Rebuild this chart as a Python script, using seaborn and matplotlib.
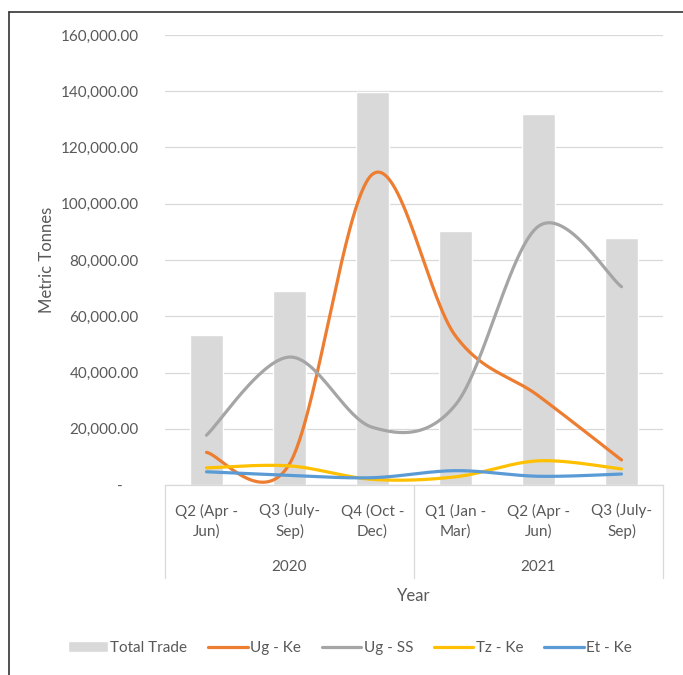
import numpy as np
import pandas as pd
import matplotlib
matplotlib.use("Agg")
import matplotlib.pyplot as plt
import matplotlib.transforms as mtransforms
from matplotlib.lines import Line2D
from matplotlib.ticker import FuncFormatter
import seaborn as sns

# ---- data -------------------------------------------------------------
years = ["2020", "2020", "2020", "2021", "2021", "2021"]
quarters = ["Q2 (Apr -\nJun)", "Q3 (July-\nSep)", "Q4 (Oct -\nDec)",
            "Q1 (Jan -\nMar)", "Q2 (Apr -\nJun)", "Q3 (July-\nSep)"]
total_trade = [53200, 69000, 139800, 90400, 132000, 87700]
ug_ke = [11600, 7500, 110500, 53000, 31700, 8900]
ug_ss = [17700, 45500, 20500, 28500, 92000, 70500]
tz_ke = [6100, 6800, 2000, 2900, 8600, 5700]
et_ke = [4700, 3400, 2600, 5100, 3100, 3900]
y_ticks = [0, 20000, 40000, 60000, 80000, 100000, 120000, 140000, 160000]

series = [("Ug - Ke", ug_ke, "#ED7D31"),
          ("Ug - SS", ug_ss, "#A5A5A5"),
          ("Tz - Ke", tz_ke, "#FFC000"),
          ("Et - Ke", et_ke, "#5B9BD5")]

TEXT = "#595959"
GRID = "#D9D9D9"

sns.set_style("white")
plt.rcParams["font.family"] = ["Lato", "DejaVu Sans"]


def smooth(xs, ys, n=60):
    """Cubic Bezier smoothing through every point (Catmull-Rom tangents)."""
    p = np.column_stack([xs, ys]).astype(float)
    m = len(p)
    t = np.linspace(0, 1, n)[:, None]
    out = []
    for i in range(m - 1):
        p0, p1, p2, p3 = p[max(i - 1, 0)], p[i], p[i + 1], p[min(i + 2, m - 1)]
        c1 = p1 + (p2 - p0) / 6.0
        c2 = p2 - (p3 - p1) / 6.0
        seg = ((1 - t) ** 3) * p1 + 3 * ((1 - t) ** 2) * t * c1 \
            + 3 * (1 - t) * t ** 2 * c2 + t ** 3 * p2
        out.append(seg if i == 0 else seg[1:])
    seg = np.vstack(out)
    return seg[:, 0], seg[:, 1]


df = pd.DataFrame({"slot": [f"{y}-{i}" for i, y in enumerate(years)],
                   "Total Trade": total_trade})

fig = plt.figure(figsize=(6.83, 6.75), dpi=100)
ax = fig.add_axes([165 / 683, 1 - 485 / 675, 498 / 683, 450 / 675])
ax.set_axisbelow(True)

sns.barplot(data=df, x="slot", y="Total Trade", color="#D9D9D9",
            saturation=1, width=0.39, label="Total Trade", ax=ax)

xpos = np.arange(len(quarters))
for name, vals, col in series:
    sx, sy = smooth(xpos, vals)
    ax.plot(sx, sy, color=col, lw=2.3, label=name, solid_capstyle="round")

if ax.get_legend() is not None:
    ax.get_legend().remove()

ax.set_xlim(-0.5, len(quarters) - 0.5)
ax.set_ylim(0, 160000)
ax.set_yticks(y_ticks)
ax.yaxis.set_major_formatter(
    FuncFormatter(lambda v, _: f"{v:,.2f}" if v else "-    "))
ax.yaxis.grid(True, color=GRID, lw=0.9)
ax.tick_params(axis="y", length=0, pad=19, labelsize=11, labelcolor=TEXT)
ax.set_xticks([])
ax.set_xlabel("")
ax.set_ylabel("")
for s in ["top", "right", "left"]:
    ax.spines[s].set_visible(False)
ax.spines["bottom"].set_color(GRID)
ax.spines["bottom"].set_linewidth(0.9)

# multi-level category axis
trans = mtransforms.blended_transform_factory(ax.transData, ax.transAxes)
box_depth = -(578 - 485) / 450
for xb in [-0.5, 2.5, 5.5]:
    ax.plot([xb, xb], [0, box_depth], transform=trans, color=GRID,
            lw=0.9, clip_on=False)
for i, q in enumerate(quarters):
    ax.text(i, -(521 - 485) / 450, q, transform=trans, ha="center",
            va="center", fontsize=11, color=TEXT, linespacing=1.45)
for yr in sorted(set(years)):
    idx = [i for i, y in enumerate(years) if y == yr]
    ax.text(np.mean(idx), -(567 - 485) / 450, yr, transform=trans,
            ha="center", va="center", fontsize=11, color=TEXT)

fig.text(414 / 683, 1 - 596 / 675, "Year", ha="center", va="center",
         fontsize=12, color=TEXT)
fig.text(47 / 683, 1 - 260 / 675, "Metric Tonnes", ha="center",
         va="center", rotation=90, fontsize=12, color=TEXT)

handles, labels = ax.get_legend_handles_labels()
order = ["Total Trade"] + [s[0] for s in series]
lookup = dict(zip(labels, handles))
fig.legend([lookup[k] for k in order], order, loc="center",
           bbox_to_anchor=(350 / 683, 1 - 648 / 675),
           ncol=5, frameon=False, fontsize=11, labelcolor=TEXT,
           handlelength=2.6, handletextpad=0.15, columnspacing=1.35)

# chart frame (top and left edges)
fig.add_artist(Line2D([8.5 / 683, 8.5 / 683], [0, 1 - 11.5 / 675],
                      transform=fig.transFigure, color="#333333", lw=1.2))
fig.add_artist(Line2D([8.5 / 683, 1], [1 - 11.5 / 675, 1 - 11.5 / 675],
                      transform=fig.transFigure, color="#333333", lw=1.2))

fig.savefig("out.png", dpi=100)
